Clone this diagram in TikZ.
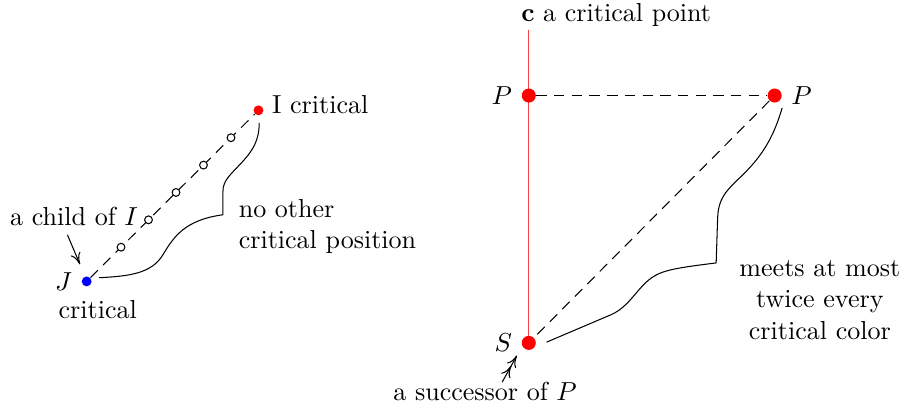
\documentclass[tikz,border=0pt]{standalone}
\usetikzlibrary{positioning,calc,arrows.meta}
\tikzset{
  bigdot/.style={circle,fill=red,inner sep=0pt,minimum size=5.4pt},
  smalldot/.style={circle,fill,inner sep=0pt,minimum size=3.8pt},
  hollowdot/.style={circle,draw,fill=white,inner sep=0pt,minimum size=3pt},
  longdash/.style={dash pattern=on 4pt off 2.8pt},
  tip/.style={-{To[length=4.5pt,width=4pt]}},
  twotip/.style={-{To[length=4.5pt,width=4pt]To[length=4.5pt,width=4pt]}},
}
\begin{document}
\begin{tikzpicture}
\useasboundingbox (0,0) rectangle (12.22,5.49);
% left part
\node[smalldot,blue] (J) at (1.17,1.69) {};
\node[smalldot,red] (I) at (3.49,4.00) {};
\draw[longdash] (J) -- (I);
\foreach \f [count=\k] in {0.2,0.36,0.52,0.68,0.84} { \node[hollowdot] (o\k) at ($(J)!\f!(I)$) {}; }
\node[left=0pt of J] (Jlab) {$J$};
\node (Jcrit) at (1.32,1.31) {critical};
\node[anchor=west] (Ilab) at (3.55,4.08) {I critical};
\node (child) at (1.0,2.57) {a child of $I$};
\coordinate (Jarrow) at (1.08,1.92);
\draw[tip] ([xshift=-0.09cm]child.south) -- (Jarrow);
\coordinate (lb0) at (1.34,1.74); \coordinate (lbtip) at (3.01,2.59); \coordinate (lb1) at (3.50,3.83);
\draw (lb0) .. controls (1.75,1.76) and (2.05,1.80) .. (2.2,2.05) .. controls (2.35,2.3) and (2.5,2.52) .. (lbtip)
  -- (3.01,2.90) .. controls (3.01,3.05) and (3.1,3.12) .. (3.25,3.28) .. controls (3.42,3.46) and (3.50,3.6) .. (lb1);
\node[anchor=west,align=left] (other) at (3.10,2.43) {no other\\critical position};
% right part
\coordinate (ctop) at (7.14,5.09); \coordinate (cbot) at (7.14,0.86);
\draw[red!75,line width=0.45pt] (ctop) -- (cbot);
\node[bigdot] (P) at (7.14,4.20) {};
\node[bigdot] (Q) at (10.46,4.20) {};
\node[bigdot] (S) at (cbot) {};
\draw[longdash] (P) -- (Q);
\draw[longdash] (Q) -- (S);
\node[left=0pt of P] (Plab) {$P$};
\node[right=0pt of Q] (Qlab) {$P$};
\node[left=0pt of S] (Slab) {$S$};
\node (ctext) at (8.32,5.285) {\textbf{c} a critical point};
\node (succ) at (6.55,0.20) {a successor of $P$};
\coordinate (Sarrow) at (6.98,0.69);
\draw[twotip] ([xshift=0.23cm,yshift=-0.12cm]succ.north) -- (Sarrow);
\coordinate (rb0) at (7.38,0.87); \coordinate (rbtip) at (9.67,1.94); \coordinate (rb1) at (10.56,4.03);
\draw (rb0) -- (8.25,1.24) .. controls (8.5,1.35) and (8.6,1.6) .. (8.8,1.74) .. controls (8.95,1.85) and (9.2,1.88) .. (rbtip)
  -- (9.69,2.55) .. controls (9.70,2.85) and (9.85,2.95) .. (10.05,3.15) .. controls (10.3,3.40) and (10.45,3.65) .. (rb1);
\node[align=center] (meets) at (11.07,1.44) {meets at most\\twice every\\critical color};
\end{tikzpicture}
\end{document}
